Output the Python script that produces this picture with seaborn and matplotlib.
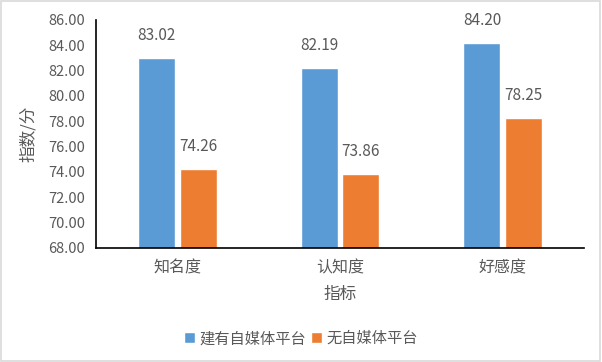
import pandas as pd
import matplotlib
matplotlib.use('Agg')
import matplotlib.pyplot as plt
import seaborn as sns

# data
categories = ['知名度', '认知度', '好感度']
with_media = [83.02, 82.19, 84.20]
without_media = [74.26, 73.86, 78.25]
series_names = ['建有自媒体平台', '无自媒体平台']

df = pd.DataFrame({
    '指标': categories * 2,
    '指数': with_media + without_media,
    '组别': [series_names[0]] * 3 + [series_names[1]] * 3,
})

sns.set_style('white')
plt.rcParams['font.family'] = ['Noto Sans CJK SC', 'DejaVu Sans']

fig = plt.figure(figsize=(6.02, 3.62), dpi=100)
ax = fig.add_axes([0.1595, 0.315, 0.8105, 0.63])

sns.barplot(data=df, x='指标', y='指数', hue='组别', palette=['#5B9BD5', '#ED7D31'],
            width=0.51, gap=0.11, ax=ax, saturation=1)

ax.set_ylim(68, 86)
ax.set_yticks(range(68, 87, 2))
ax.set_yticklabels([f'{v:.2f}' for v in range(68, 87, 2)])

txt = '#595959'
for c in ax.containers:
    ax.bar_label(c, fmt='%.2f', padding=10, color=txt, fontsize=11)

ax.set_xlabel('指标', color=txt, fontsize=12, labelpad=7)
ax.set_ylabel('指数/分', color=txt, fontsize=12, labelpad=8)
ax.tick_params(axis='y', direction='in', length=4, colors='black', labelcolor=txt, labelsize=10.5, pad=8)
ax.tick_params(axis='x', length=0, labelcolor=txt, labelsize=11.5, pad=8)

for s in ['top', 'right']:
    ax.spines[s].set_visible(False)
for s in ['left', 'bottom']:
    ax.spines[s].set_color('black')
    ax.spines[s].set_linewidth(1.2)

ax.legend(loc='upper center', bbox_to_anchor=(0.42, -0.30), ncol=2, frameon=False,
          fontsize=11, labelcolor=txt, handlelength=0.7, handleheight=0.7,
          handletextpad=0.3, columnspacing=0.3)

# light grey border around the whole picture
fig.patches.append(plt.Rectangle((0.002, 0.003), 0.995, 0.993, transform=fig.transFigure,
                                 fill=False, edgecolor='#D9D9D9', linewidth=1.2))

fig.savefig('out.png', dpi=100)
